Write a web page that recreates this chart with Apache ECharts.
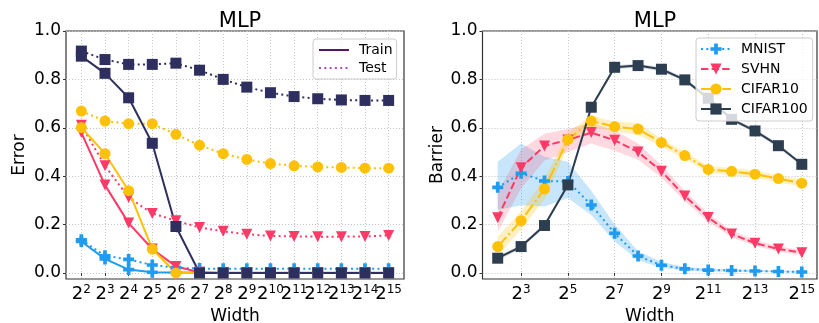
<!DOCTYPE html>
<html>
<head>
<meta charset="utf-8">
<script src="https://cdn.jsdelivr.net/npm/echarts@6/dist/echarts.min.js"></script>
<style>
  html, body { margin: 0; padding: 0; background: #fff; }
  #chart { width: 819px; height: 323px; }
</style>
</head>
<body>
<div id="chart"></div>
<script>
// Network width exponents (width = 2^n)
const widthExps = [2, 3, 4, 5, 6, 7, 8, 9, 10, 11, 12, 13, 14, 15];
const errorXTicks = [2, 3, 4, 5, 6, 7, 8, 9, 10, 11, 12, 13, 14, 15];
const errorXLabelsEven = [2, 4, 6, 8, 10, 12, 14];
const errorXLabelsOdd = [3, 5, 7, 9, 11, 13, 15];
const barrierXTicks = [3, 5, 7, 9, 11, 13, 15];
const yTicks = [0, 0.2, 0.4, 0.6, 0.8, 1.0];

// Error (train / test)
const mnistTrainErr   = [0.130, 0.058, 0.014, 0.003, 0.002, 0.001, 0.001, 0.001, 0.001, 0.001, 0.001, 0.001, 0.001, 0.001];
const mnistTestErr    = [0.137, 0.071, 0.056, 0.033, 0.022, 0.018, 0.017, 0.017, 0.017, 0.017, 0.017, 0.017, 0.017, 0.017];
const svhnTrainErr    = [0.580, 0.363, 0.206, 0.099, 0.027, 0.003, 0.000, 0.000, 0.000, 0.000, 0.000, 0.000, 0.000, 0.000];
const svhnTestErr     = [0.610, 0.443, 0.312, 0.246, 0.216, 0.188, 0.172, 0.160, 0.153, 0.151, 0.150, 0.150, 0.151, 0.155];
const cifar10TrainErr = [0.601, 0.493, 0.340, 0.099, 0.000, 0.000, 0.000, 0.000, 0.000, 0.000, 0.000, 0.000, 0.000, 0.000];
const cifar10TestErr  = [0.669, 0.628, 0.617, 0.617, 0.573, 0.528, 0.493, 0.469, 0.452, 0.443, 0.438, 0.436, 0.433, 0.433];
const cifar100TrainErr = [0.896, 0.825, 0.724, 0.536, 0.192, 0.000, 0.000, 0.000, 0.000, 0.000, 0.000, 0.000, 0.000, 0.000];
const cifar100TestErr  = [0.917, 0.882, 0.862, 0.862, 0.867, 0.838, 0.800, 0.768, 0.745, 0.729, 0.720, 0.715, 0.713, 0.713];

// Barrier mean and spread
const mnistBarrier    = [0.354, 0.412, 0.380, 0.378, 0.281, 0.164, 0.070, 0.032, 0.017, 0.012, 0.010, 0.008, 0.006, 0.004];
const mnistBarrierLo  = [0.260, 0.280, 0.275, 0.310, 0.240, 0.130, 0.052, 0.022, 0.010, 0.006, 0.005, 0.004, 0.003, 0.001];
const mnistBarrierHi  = [0.460, 0.535, 0.480, 0.460, 0.340, 0.200, 0.090, 0.045, 0.025, 0.018, 0.015, 0.012, 0.010, 0.008];
const svhnBarrier     = [0.228, 0.435, 0.525, 0.550, 0.580, 0.548, 0.500, 0.420, 0.318, 0.229, 0.161, 0.123, 0.099, 0.084];
const svhnBarrierLo   = [0.170, 0.350, 0.465, 0.500, 0.535, 0.505, 0.468, 0.395, 0.296, 0.213, 0.148, 0.112, 0.088, 0.074];
const svhnBarrierHi   = [0.330, 0.510, 0.575, 0.595, 0.620, 0.590, 0.535, 0.445, 0.340, 0.245, 0.175, 0.135, 0.110, 0.094];
const cifar10Barrier  = [0.109, 0.216, 0.347, 0.552, 0.628, 0.605, 0.595, 0.539, 0.485, 0.428, 0.420, 0.408, 0.390, 0.371];
const cifar10BarrierLo = [0.070, 0.180, 0.305, 0.525, 0.605, 0.585, 0.570, 0.523, 0.470, 0.414, 0.405, 0.393, 0.375, 0.357];
const cifar10BarrierHi = [0.150, 0.255, 0.390, 0.580, 0.650, 0.625, 0.620, 0.555, 0.500, 0.442, 0.435, 0.423, 0.405, 0.385];
const cifar100Barrier = [0.061, 0.109, 0.196, 0.364, 0.685, 0.850, 0.857, 0.842, 0.798, 0.722, 0.635, 0.587, 0.526, 0.449];
const cifar100BarrierLo = [0.053, 0.101, 0.188, 0.356, 0.677, 0.842, 0.849, 0.834, 0.790, 0.714, 0.627, 0.579, 0.518, 0.441];
const cifar100BarrierHi = [0.069, 0.117, 0.204, 0.372, 0.693, 0.858, 0.865, 0.850, 0.806, 0.730, 0.643, 0.595, 0.534, 0.457];

const FONT = 'DejaVu Sans';
const C_MNIST = '#1f9bf0';
const C_SVHN = '#ff3a66';
const C_CIFAR10 = '#ffc107';
const C_CIFAR100_L = '#2e2f5e';
const C_CIFAR100_R = '#2c3e50';

const PLUS = 'path://M-1,-3H1V-1H3V1H1V3H-1V1H-3V-1H-1Z';
const TRI_DOWN = 'path://M-1,-1L1,-1L0,1Z';

const DOTTED = [2, 3.3];
const DASHED = [7.4, 3.2];
const DASHDOT = [12.8, 3.2, 2, 3.2];

function pairs(vals) { return widthExps.map((e, i) => [e, vals[i]]); }

function line(name, gi, vals, color, dash, symbol, size) {
  return {
    name, type: 'line', xAxisIndex: gi, yAxisIndex: gi,
    data: pairs(vals),
    symbol, symbolSize: size, showAllSymbol: true, clip: false,
    lineStyle: { color, width: 2, type: dash || 'solid' },
    itemStyle: { color },
    emphasis: { disabled: true },
    z: 3
  };
}

function band(lo, hi, fill) {
  return {
    type: 'custom', xAxisIndex: 1, yAxisIndex: 1, silent: true, clip: false, z: 1,
    data: widthExps.map((e, i) => [e, lo[i], hi[i]]),
    encode: { x: 0, y: [1, 2] },
    renderItem: (params, api) => {
      if (params.dataIndex !== 0) return null;
      const upper = widthExps.map((e, i) => api.coord([e, hi[i]]));
      const lower = widthExps.map((e, i) => api.coord([e, lo[i]])).reverse();
      return { type: 'polygon', shape: { points: upper.concat(lower) }, style: { fill } };
    }
  };
}

const gridLine = { show: true, lineStyle: { color: '#c4c4c4', width: 1, type: [1, 2] } };

// Power-of-two tick label: base "2" with a raised exponent
const powLabel = {
  margin: 5, color: '#000', hideOverlap: false, showMinLabel: true, showMaxLabel: true,
  formatter: v => '{b|2}{s|' + Math.round(v) + '}',
  rich: {
    b: { fontSize: 18, lineHeight: 20, fontFamily: FONT, color: '#000' },
    s: { fontSize: 12, lineHeight: 7, verticalAlign: 'top', fontFamily: FONT, color: '#000' }
  }
};

function xAxis(gi, ticks, labels) {
  return {
    type: 'value', gridIndex: gi, min: 1.35, max: 15.65,
    name: 'Width', nameLocation: 'middle', nameGap: 25,
    nameTextStyle: { fontSize: 17, color: '#000', fontFamily: FONT },
    axisLine: { show: false },
    axisTick: { show: true, customValues: ticks, length: 3, lineStyle: { color: '#333' } },
    axisLabel: Object.assign({ customValues: labels }, powLabel),
    splitLine: gridLine
  };
}

// Second label row for the crowded error axis (same geometry, labels only)
function xLabelAxis(gi, labels) {
  return {
    type: 'value', gridIndex: gi, min: 1.35, max: 15.65,
    axisLine: { show: false }, axisTick: { show: false }, splitLine: { show: false },
    axisLabel: Object.assign({ customValues: labels }, powLabel)
  };
}

function yAxis(gi, name, gap) {
  return {
    type: 'value', gridIndex: gi, min: -0.025, max: 1.0,
    name, nameLocation: 'middle', nameGap: gap,
    nameTextStyle: { fontSize: 17, color: '#000', fontFamily: FONT },
    axisLine: { show: false },
    axisTick: { show: true, customValues: yTicks, length: 3, lineStyle: { color: '#333' } },
    axisLabel: {
      customValues: yTicks, margin: 5, fontSize: 17, color: '#000', fontFamily: FONT,
      hideOverlap: false, showMinLabel: true, showMaxLabel: true,
      formatter: v => v.toFixed(1)
    },
    splitLine: gridLine
  };
}

const legendBase = {
  orient: 'vertical', itemWidth: 30, itemHeight: 14,
  backgroundColor: 'rgba(255,255,255,0.8)', borderColor: '#cccccc', borderWidth: 1, borderRadius: 3,
  textStyle: { fontSize: 14, color: '#000', fontFamily: FONT, padding: [0, 0, 0, 5] },
  selectedMode: false, z: 10
};

const gridBase = {
  show: true, borderColor: '#333', borderWidth: 1.2, backgroundColor: 'transparent',
  containLabel: false, outerBoundsMode: 'none'
};
const errorBox = { left: 66, top: 31, width: 338, height: 248 };
const barrierBox = { left: 482.5, top: 31, width: 334.5, height: 248 };

const option = {
  animation: false,
  backgroundColor: '#fff',
  title: [
    { text: 'MLP', left: 235, top: 6, textAlign: 'center',
      textStyle: { fontSize: 21, fontWeight: 'normal', color: '#000', fontFamily: FONT } },
    { text: 'MLP', left: 650, top: 6, textAlign: 'center',
      textStyle: { fontSize: 21, fontWeight: 'normal', color: '#000', fontFamily: FONT } }
  ],
  grid: [
    Object.assign({}, gridBase, errorBox),
    Object.assign({}, gridBase, barrierBox),
    Object.assign({}, gridBase, errorBox, { show: false })
  ],
  xAxis: [
    xAxis(0, errorXTicks, errorXLabelsEven),
    xAxis(1, barrierXTicks, barrierXTicks),
    xLabelAxis(2, errorXLabelsOdd)
  ],
  yAxis: [
    yAxis(0, 'Error', 38),
    yAxis(1, 'Barrier', 36),
    { type: 'value', gridIndex: 2, min: -0.025, max: 1.0, show: false }
  ],
  legend: [
    Object.assign({}, legendBase, {
      data: ['Train', 'Test'], left: 313, top: 39, padding: [4, 4, 4, 5], itemGap: 4,
      itemStyle: { opacity: 0 }
    }),
    Object.assign({}, legendBase, {
      data: ['MNIST', 'SVHN', 'CIFAR10', 'CIFAR100'], left: 696, top: 38, padding: [4, 5, 5, 4], itemGap: 6
    })
  ],
  series: [
    // legend entries for the error panel
    { name: 'Train', type: 'line', xAxisIndex: 0, yAxisIndex: 0, data: [], symbol: 'none',
      lineStyle: { color: '#5a1469', width: 1.6 }, itemStyle: { color: '#5a1469' } },
    { name: 'Test', type: 'line', xAxisIndex: 0, yAxisIndex: 0, data: [], symbol: 'none',
      lineStyle: { color: '#b54ac8', width: 1.6, type: DOTTED }, itemStyle: { color: '#b54ac8' } },

    line('MNIST train', 0, mnistTrainErr, C_MNIST, null, PLUS, 11),
    line('MNIST test', 0, mnistTestErr, C_MNIST, DOTTED, PLUS, 11),
    line('SVHN train', 0, svhnTrainErr, C_SVHN, null, TRI_DOWN, 11),
    line('SVHN test', 0, svhnTestErr, C_SVHN, DOTTED, TRI_DOWN, 11),
    line('CIFAR10 train', 0, cifar10TrainErr, C_CIFAR10, null, 'circle', 11),
    line('CIFAR10 test', 0, cifar10TestErr, C_CIFAR10, DOTTED, 'circle', 11),
    line('CIFAR100 train', 0, cifar100TrainErr, C_CIFAR100_L, null, 'rect', 11),
    line('CIFAR100 test', 0, cifar100TestErr, C_CIFAR100_L, DOTTED, 'rect', 11),

    band(mnistBarrierLo, mnistBarrierHi, 'rgba(31,155,240,0.25)'),
    band(svhnBarrierLo, svhnBarrierHi, 'rgba(255,58,102,0.2)'),
    band(cifar10BarrierLo, cifar10BarrierHi, 'rgba(255,193,7,0.25)'),
    band(cifar100BarrierLo, cifar100BarrierHi, 'rgba(44,62,80,0.2)'),

    line('MNIST', 1, mnistBarrier, C_MNIST, DOTTED, PLUS, 11),
    line('SVHN', 1, svhnBarrier, C_SVHN, DASHED, TRI_DOWN, 11),
    line('CIFAR10', 1, cifar10Barrier, C_CIFAR10, DASHDOT, 'circle', 11),
    line('CIFAR100', 1, cifar100Barrier, C_CIFAR100_R, null, 'rect', 11)
  ]
};

const chart = echarts.init(document.getElementById('chart'), null, { renderer: 'canvas' });
chart.setOption(option);
</script>
</body>
</html>
